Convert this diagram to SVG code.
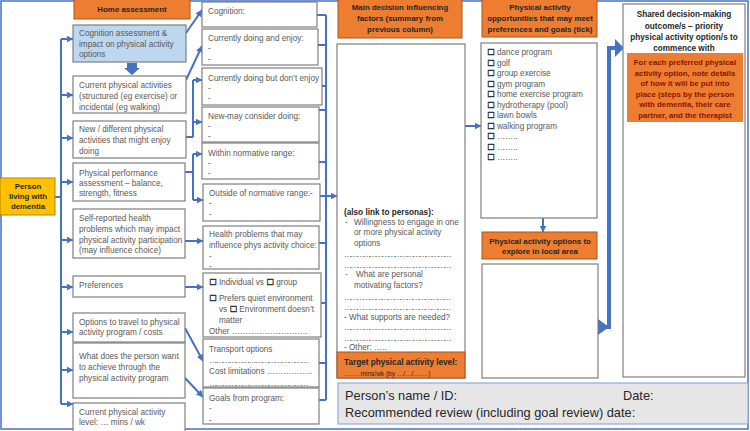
<svg xmlns="http://www.w3.org/2000/svg" width="750" height="431" viewBox="0 0 750 431">
<defs>
<marker id="ah" markerUnits="userSpaceOnUse" markerWidth="7" markerHeight="7" refX="6.5" refY="3.5" orient="auto">
<path d="M0,0 L7,3.5 L0,7 z" fill="#4472C4"/>
</marker>
<style>
text{font-family:"Liberation Sans",Arial,sans-serif;}
.box{fill:#fff;stroke:#7F7F7F;stroke-width:1.2;}
.org{fill:#ED7D31;stroke:#A9541C;stroke-width:1;}
.t{font-size:8.2px;fill:#595959;}
.h{font-size:7.9px;font-weight:bold;fill:#262626;text-anchor:middle;}
.b{font-size:8.2px;font-weight:bold;fill:#262626;}
.cb{font-family:"DejaVu Sans",sans-serif;font-size:8.5px;fill:#262626;stroke:#262626;stroke-width:0.35;}
.ln{fill:none;stroke:#4472C4;stroke-width:2;}
.la{fill:none;stroke:#4472C4;stroke-width:2;marker-end:url(#ah);}
</style>
</defs>
<rect width="750" height="431" fill="#fff"/>
<rect x="1" y="1" width="747" height="428" fill="none" stroke="#4472C4" stroke-width="1.5"/>

<g id="connectors">
<path class="ln" d="M55,197 H61 M61,39 V404"/>
<path class="la" d="M61,39 H73"/>
<path class="la" d="M61,95 H73"/>
<path class="la" d="M61,138 H73"/>
<path class="la" d="M61,182 H73"/>
<path class="la" d="M61,240 H73"/>
<path class="la" d="M61,287 H73"/>
<path class="la" d="M61,332 H73"/>
<path class="la" d="M61,370 H73"/>
<path class="la" d="M61,404 H73"/>
<path class="la" d="M186,33 L202,10"/>
<path class="la" d="M186,80 L202,46"/>
<path class="ln" d="M186,137 H193 M193,80 V137"/>
<path class="la" d="M193,80 H202"/>
<path class="la" d="M193,122 H202"/>
<path class="ln" d="M185,172 H193 M193,154 V200"/>
<path class="la" d="M193,154 H202"/>
<path class="la" d="M193,200 H203"/>
<path class="la" d="M185,241 H203"/>
<path class="la" d="M185,287 H203"/>
<path class="la" d="M185,328 L203,361"/>
<path class="la" d="M185,378 L203,397"/>
<path class="ln" d="M326,15 V400 M317,15 H326 M318,45 H326 M322,86 H326 M319,110 H326 M319,162 H326 M320,196 H326 M319,243 H326 M321,303 H326 M319,363 H326 M319,400 H326"/>
<path class="la" d="M326,196 H337"/>
<path class="la" d="M465,126 H481"/>
<path class="la" d="M543,218 V232"/>
<path fill="none" stroke="#4472C4" stroke-width="4" d="M604,327 H609 V48 H616"/>
<path d="M598,319 L609,327 L598,335 z" fill="#4472C4"/>
<path d="M615,39 L624,48 L615,57 z" fill="#4472C4"/>
<path d="M127,63 H137 V68 H140 L132,75 L124,68 H127 z" fill="#4472C4"/>
</g>

<g id="person">
<rect x="0" y="178" width="55" height="37" fill="#FFC000" stroke="#B38600" stroke-width="1"/>
<text class="h" x="28" y="189" style="font-size:7.8px">Person</text>
<text class="h" x="28" y="199" style="font-size:7.8px">living with</text>
<text class="h" x="28" y="209" style="font-size:7.8px">dementia</text>
</g>

<g id="home-assessment">
<rect class="org" x="74" y="-1" width="116" height="20"/>
<text class="h" x="132" y="12">Home assessment</text>
</g>

<g id="cognition-assessment">
<rect x="73" y="25" width="113" height="37" fill="#BDD7EE" stroke="#7F7F7F" stroke-width="1.2"/>
<text class="t" x="79" y="36">Cognition assessment &amp;</text>
<text class="t" x="79" y="47">impact on physical activity</text>
<text class="t" x="79" y="57">options</text>
</g>

<g id="current-activities">
<rect class="box" x="73" y="76" width="113" height="37"/>
<text class="t" x="79" y="88">Current physical activities</text>
<text class="t" x="79" y="99">(structured (eg exercise) or</text>
<text class="t" x="79" y="110">incidental (eg walking)</text>
</g>

<g id="new-activities">
<rect class="box" x="73" y="121" width="113" height="37"/>
<text class="t" x="79" y="132">New / different physical</text>
<text class="t" x="79" y="143">activities that might enjoy</text>
<text class="t" x="79" y="154">doing</text>
</g>

<g id="physical-performance">
<rect class="box" x="73" y="163" width="112" height="38"/>
<text class="t" x="79" y="176">Physical performance</text>
<text class="t" x="79" y="186">assessment – balance,</text>
<text class="t" x="79" y="196">strength, fitness</text>
</g>

<g id="self-reported">
<rect class="box" x="73" y="209" width="112" height="49"/>
<text class="t" x="79" y="221">Self-reported health</text>
<text class="t" x="79" y="232">problems which may impact</text>
<text class="t" x="79" y="242.5">physical activity participation</text>
<text class="t" x="79" y="253">(may influence choice)</text>
</g>

<g id="preferences-left">
<rect class="box" x="73" y="276" width="112" height="21"/>
<text class="t" x="79" y="288">Preferences</text>
</g>

<g id="travel">
<rect class="box" x="73" y="313" width="112" height="29"/>
<text class="t" x="79" y="325">Options to travel to physical</text>
<text class="t" x="79" y="335">activity  program / costs</text>
</g>

<g id="achieve">
<rect class="box" x="73" y="343" width="112" height="55"/>
<text class="t" x="79" y="359">What does the person want</text>
<text class="t" x="79" y="370">to achieve through the</text>
<text class="t" x="79" y="381">physical activity program</text>
</g>

<g id="current-level">
<rect class="box" x="73" y="403" width="112" height="30"/>
<text class="t" x="79" y="415">Current physical activity</text>
<text class="t" x="79" y="425">level: … mins / wk</text>
</g>

<g id="cognition">
<rect class="box" x="202" y="2" width="115" height="25"/>
<text class="t" x="208" y="14">Cognition:</text>
</g>

<g id="doing-enjoy">
<rect class="box" x="202" y="29" width="116" height="36"/>
<text class="t" x="208" y="41">Currently doing and enjoy:</text>
<text class="t" x="208" y="51">-</text>
<text class="t" x="208" y="62">-</text>
</g>

<g id="doing-not-enjoy">
<rect class="box" x="202" y="68" width="120" height="37"/>
<text class="t" x="208" y="81">Currently doing but don’t enjoy</text>
<text class="t" x="208" y="91">-</text>
<text class="t" x="208" y="101">-</text>
</g>

<g id="new-may">
<rect class="box" x="202" y="107" width="117" height="35"/>
<text class="t" x="208" y="119">New-may consider doing:</text>
<text class="t" x="208" y="129">-</text>
<text class="t" x="208" y="139">-</text>
</g>

<g id="within-range">
<rect class="box" x="202" y="143" width="117" height="36"/>
<text class="t" x="208" y="156">Within normative range:</text>
<text class="t" x="208" y="166">-</text>
<text class="t" x="208" y="176">-</text>
</g>

<g id="outside-range">
<rect class="box" x="203" y="184" width="117" height="37"/>
<text class="t" x="209" y="196">Outside of normative range:-</text>
<text class="t" x="209" y="206">-</text>
<text class="t" x="209" y="217">-</text>
</g>

<g id="health-problems">
<rect class="box" x="203" y="226" width="116" height="43"/>
<text class="t" x="209" y="237">Health problems that may</text>
<text class="t" x="209" y="248">influence phys activity choice:</text>
<text class="t" x="209" y="259">-</text>
<text class="t" x="209" y="269">-</text>
</g>

<g id="preferences">
<rect class="box" x="203" y="273" width="118" height="64"/>
<text class="t" x="209" y="285"><tspan class="cb">☐</tspan> Individual vs <tspan class="cb">☐</tspan> group</text>
<text class="t" x="209" y="301"><tspan class="cb">☐</tspan> Prefers quiet environment</text>
<text class="t" x="219" y="312">vs <tspan class="cb">☐</tspan> Environment doesn’t</text>
<text class="t" x="219" y="323">matter</text>
<text class="t" x="209" y="334">Other ……………………….</text>
</g>

<g id="transport">
<rect class="box" x="203" y="339" width="116" height="48"/>
<text class="t" x="209" y="352">Transport options</text>
<text class="t" x="209" y="363" textLength="100" lengthAdjust="spacing">………………………………………</text>
<text class="t" x="209" y="374">Cost limitations ……………..</text>
<text class="t" x="209" y="386" textLength="100" lengthAdjust="spacing">………………………………………</text>
</g>

<g id="goals">
<rect class="box" x="203" y="388" width="116" height="36"/>
<text class="t" x="209" y="401">Goals from program:</text>
<text class="t" x="209" y="411">-</text>
<text class="t" x="209" y="423">-</text>
</g>

<g id="main-header">
<rect class="org" x="338" y="-1" width="124" height="39"/>
<text class="h" x="400" y="10">Main decision influencing</text>
<text class="h" x="400" y="21">factors (summary from</text>
<text class="h" x="400" y="32">previous column)</text>
</g>

<g id="main-box">
<rect class="box" x="337" y="44" width="128" height="334"/>
<text class="b" x="344" y="215">(also link to personas):</text>
<text class="t" x="345" y="225">-</text>
<text class="t" x="354" y="225">Willingness to engage in one</text>
<text class="t" x="354" y="235">or more physical activity</text>
<text class="t" x="354" y="246">options</text>
<text class="t" x="344" y="257" textLength="108" lengthAdjust="spacing">……………………………………………</text>
<text class="t" x="344" y="268" textLength="108" lengthAdjust="spacing">……………………………………………</text>
<text class="t" x="345" y="277">-</text>
<text class="t" x="356" y="277">What are personal</text>
<text class="t" x="354" y="288">motivating factors?</text>
<text class="t" x="344" y="300" textLength="107" lengthAdjust="spacing">……………………………………………</text>
<text class="t" x="344" y="310" textLength="107" lengthAdjust="spacing">……………………………………………</text>
<text class="t" x="344" y="320">- What supports are needed?</text>
<text class="t" x="344" y="330" textLength="108" lengthAdjust="spacing">……………………………………………</text>
<text class="t" x="344" y="341" textLength="108" lengthAdjust="spacing">……………………………………………</text>
<text class="t" x="344" y="350">- Other: …..</text>
<rect class="org" x="337" y="352" width="128" height="26"/>
<text class="b" x="344" y="365">Target physical activity level:</text>
<text x="344" y="376" style="font-size:6.5px;fill:#262626">……. mins/wk (by …/…/…….)</text>
</g>

<g id="opp-header">
<rect class="org" x="482" y="-1" width="115" height="38"/>
<text class="h" x="540" y="10">Physical activity</text>
<text class="h" x="540" y="21">opportunities that may meet</text>
<text class="h" x="540" y="32">preferences and goals (tick)</text>
</g>

<g id="opp-box">
<rect class="box" x="481" y="43" width="116" height="175"/>
<g class="t">
<text x="487" y="55"><tspan class="cb">☐</tspan> dance program</text>
<text x="487" y="65.5"><tspan class="cb">☐</tspan> golf</text>
<text x="487" y="76"><tspan class="cb">☐</tspan> group exercise</text>
<text x="487" y="86.5"><tspan class="cb">☐</tspan> gym program</text>
<text x="487" y="97"><tspan class="cb">☐</tspan> home exercise program</text>
<text x="487" y="107.5"><tspan class="cb">☐</tspan> hydrotherapy (pool)</text>
<text x="487" y="118"><tspan class="cb">☐</tspan> lawn bowls</text>
<text x="487" y="128.5"><tspan class="cb">☐</tspan> walking program</text>
<text x="487" y="139"><tspan class="cb">☐</tspan> ……..</text>
<text x="487" y="149.5"><tspan class="cb">☐</tspan> ……..</text>
<text x="487" y="160"><tspan class="cb">☐</tspan> ……..</text>
</g>
</g>

<g id="explore-header">
<rect class="org" x="482" y="232" width="115" height="27"/>
<text class="h" x="540" y="244">Physical activity options to</text>
<text class="h" x="540" y="254">explore in local area</text>
</g>

<g id="explore-box">
<rect class="box" x="482" y="264" width="116" height="114"/>
</g>

<g id="shared">
<rect class="box" x="623" y="4" width="122" height="373"/>
<text class="h" x="684" y="17" style="font-size:8.2px">Shared decision-making</text>
<text class="h" x="684" y="29" style="font-size:8.2px">outcome/s – priority</text>
<text class="h" x="684" y="40" style="font-size:8.2px">physical activity option/s to</text>
<text class="h" x="684" y="51" style="font-size:8.2px">commence with</text>
<rect x="627" y="53" width="116" height="69" fill="#ED7D31"/>
<g class="h" style="fill:#8B1500;font-size:7.8px">
<text x="685" y="65">For each preferred physical</text>
<text x="685" y="75.5">activity option, note details</text>
<text x="685" y="86">of how it will be put into</text>
<text x="685" y="96.5">place (steps by the person</text>
<text x="685" y="107">with dementia, their care</text>
<text x="685" y="117.5">partner, and the therapist</text>
</g>
</g>

<g id="footer">
<rect x="338" y="383" width="410" height="41" fill="#E7E6E6" stroke="#8FAADC" stroke-width="1.2"/>
<text x="345" y="400" style="font-size:12.8px;fill:#262626">Person’s name / ID:</text>
<text x="623" y="400" style="font-size:12.8px;fill:#262626">Date:</text>
<text x="345" y="417" style="font-size:12.8px;fill:#262626">Recommended review (including goal review) date:</text>
</g>
</svg>
